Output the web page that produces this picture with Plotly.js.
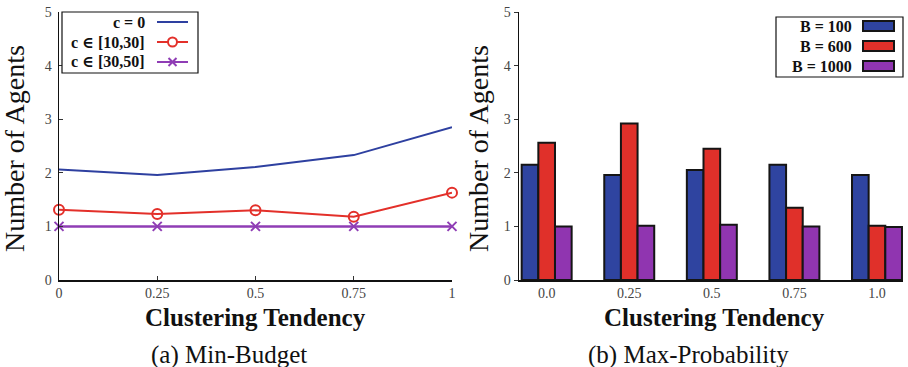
<!DOCTYPE html>
<html>
<head>
<meta charset="utf-8">
<script src="https://cdn.plot.ly/plotly-3.0.1.min.js"></script>
<style>html,body{margin:0;padding:0;background:#fff;}#chart{width:908px;height:367px;}</style>
</head>
<body>
<div id="chart"></div>
<script>
// Panel (a) Min-Budget
const tendencyA = [0, 0.25, 0.5, 0.75, 1];
const c0 = [2.06, 1.96, 2.11, 2.33, 2.85];
const c10_30 = [1.31, 1.23, 1.30, 1.18, 1.63];
const c30_50 = [1.0, 1.0, 1.0, 1.0, 1.0];
const seriesNamesA = ['c = 0', 'c ∈ [10,30]', 'c ∈ [30,50]'];
const tickTextA = ['0', '0.25', '0.5', '0.75', '1'];

// Panel (b) Max-Probability
const tendencyB = ['0.0', '0.25', '0.5', '0.75', '1.0'];
const b100 = [2.15, 1.96, 2.05, 2.15, 1.96];
const b600 = [2.56, 2.92, 2.45, 1.35, 1.01];
const b1000 = [1.0, 1.01, 1.03, 1.0, 0.99];
const seriesNamesB = ['B = 100', 'B = 600', 'B = 1000'];

const yTicks = [0, 1, 2, 3, 4, 5];
const captions = ['(a) Min-Budget', '(b) Max-Probability'];
const xTitle = 'Clustering Tendency';
const yTitle = 'Number of Agents';

const W = 908, H = 367, MT = 12, MB = 87;
const PH = H - MT - MB;
const px = v => v / W;
const py = v => (H - MB - v) / PH;

const colA = ['#2e40a0', '#e3302a', '#8f3db5'];
const colB = ['#2f44a0', '#e0302a', '#9035b0'];
const serif = '"Liberation Serif", "DejaVu Serif", serif';

const traces = [
  {x: tendencyA, y: c0, type: 'scatter', mode: 'lines', name: seriesNamesA[0],
   line: {color: colA[0], width: 2}, xaxis: 'x', yaxis: 'y', showlegend: false, cliponaxis: false},
  {x: tendencyA, y: c10_30, type: 'scatter', mode: 'lines+markers', name: seriesNamesA[1],
   line: {color: colA[1], width: 2}, marker: {symbol: 'circle-open', size: 10, color: colA[1], line: {width: 2, color: colA[1]}},
   xaxis: 'x', yaxis: 'y', showlegend: false, cliponaxis: false},
  {x: tendencyA, y: c30_50, type: 'scatter', mode: 'lines+markers', name: seriesNamesA[2],
   line: {color: colA[2], width: 2.5}, marker: {symbol: 'x-thin-open', size: 9, color: colA[2], line: {width: 2, color: colA[2]}},
   xaxis: 'x', yaxis: 'y', showlegend: false, cliponaxis: false},
  {x: tendencyB, y: b100, type: 'bar', name: seriesNamesB[0], marker: {color: colB[0], line: {color: '#151515', width: 2}},
   xaxis: 'x2', yaxis: 'y2', showlegend: false},
  {x: tendencyB, y: b600, type: 'bar', name: seriesNamesB[1], marker: {color: colB[1], line: {color: '#151515', width: 2}},
   xaxis: 'x2', yaxis: 'y2', showlegend: false},
  {x: tendencyB, y: b1000, type: 'bar', name: seriesNamesB[2], marker: {color: colB[2], line: {color: '#151515', width: 2}},
   xaxis: 'x2', yaxis: 'y2', showlegend: false}
];

const tickFont = {family: serif, size: 14, color: '#444'};

const shapes = [];
const annotations = [];

// Custom legend (a): text right-aligned, sample on the right
shapes.push({type: 'rect', xref: 'paper', yref: 'paper', x0: px(62), x1: px(198), y0: py(73), y1: py(12),
  line: {color: '#111', width: 1.2}, fillcolor: '#fff'});
const legARows = [22, 42, 62];
legARows.forEach((ry, i) => {
  annotations.push({xref: 'paper', yref: 'paper', x: px(147), y: py(ry), xanchor: 'right', yanchor: 'middle',
    text: '<b>' + seriesNamesA[i] + '</b>', showarrow: false, font: {family: serif, size: 16, color: '#111'}});
  shapes.push({type: 'line', xref: 'paper', yref: 'paper', x0: px(157), x1: px(188), y0: py(ry), y1: py(ry),
    line: {color: colA[i], width: 2}});
});
shapes.push({type: 'circle', xref: 'paper', yref: 'paper', x0: px(168), x1: px(177), y0: py(46.5), y1: py(37.5),
  line: {color: colA[1], width: 2}, fillcolor: '#fff'});
shapes.push({type: 'line', xref: 'paper', yref: 'paper', x0: px(168.5), x1: px(176.5), y0: py(58), y1: py(66), line: {color: colA[2], width: 2}});
shapes.push({type: 'line', xref: 'paper', yref: 'paper', x0: px(168.5), x1: px(176.5), y0: py(66), y1: py(58), line: {color: colA[2], width: 2}});

// Custom legend (b)
shapes.push({type: 'rect', xref: 'paper', yref: 'paper', x0: px(776), x1: px(903), y0: py(77), y1: py(17),
  line: {color: '#111', width: 1.2}, fillcolor: '#fff'});
const legBRows = [26, 46, 66];
legBRows.forEach((ry, i) => {
  annotations.push({xref: 'paper', yref: 'paper', x: px(854), y: py(ry), xanchor: 'right', yanchor: 'middle',
    text: '<b>' + seriesNamesB[i] + '</b>', showarrow: false, font: {family: serif, size: 16, color: '#111'}});
  shapes.push({type: 'rect', xref: 'paper', yref: 'paper', x0: px(863), x1: px(894), y0: py(ry + 5), y1: py(ry - 5),
    line: {color: '#151515', width: 2}, fillcolor: colB[i]});
});

// Axis titles
const yTitleFont = {family: serif, size: 28, color: '#111'};
const xTitleFont = {family: serif, size: 25, color: '#111'};
annotations.push({xref: 'paper', yref: 'paper', x: px(14), y: py(149), xanchor: 'center', yanchor: 'middle', textangle: -90,
  text: yTitle, showarrow: false, font: yTitleFont});
annotations.push({xref: 'paper', yref: 'paper', x: px(478), y: py(149), xanchor: 'center', yanchor: 'middle', textangle: -90,
  text: yTitle, showarrow: false, font: yTitleFont});
annotations.push({xref: 'paper', yref: 'paper', x: px(255), y: py(317), xanchor: 'center', yanchor: 'middle',
  text: '<b>' + xTitle + '</b>', showarrow: false, font: xTitleFont});
annotations.push({xref: 'paper', yref: 'paper', x: px(714), y: py(317), xanchor: 'center', yanchor: 'middle',
  text: '<b>' + xTitle + '</b>', showarrow: false, font: xTitleFont});

// Captions
annotations.push({xref: 'paper', yref: 'paper', x: px(229), y: py(355), xanchor: 'center', yanchor: 'middle',
  text: captions[0], showarrow: false, font: {family: serif, size: 25, color: '#111'}});
annotations.push({xref: 'paper', yref: 'paper', x: px(688), y: py(355), xanchor: 'center', yanchor: 'middle',
  text: captions[1], showarrow: false, font: {family: serif, size: 25, color: '#111'}});

const layout = {
  width: W, height: H,
  margin: {l: 0, r: 0, t: MT, b: MB},
  paper_bgcolor: '#fff', plot_bgcolor: '#fff',
  showlegend: false,
  barmode: 'group', bargap: 0.395, bargroupgap: 0,
  xaxis: {domain: [px(59), px(452)], range: [0, 1], tickvals: tendencyA, ticktext: tickTextA,
    showgrid: false, zeroline: false, showline: true, linecolor: '#111', linewidth: 1.5,
    ticks: 'inside', ticklen: 4, tickcolor: '#333', tickfont: tickFont, anchor: 'y'},
  yaxis: {domain: [0, 1], range: [0, 5], tickvals: yTicks, showgrid: false, zeroline: false, showline: true,
    linecolor: '#111', linewidth: 1.5, ticks: 'inside', ticklen: 4, tickcolor: '#333', tickfont: tickFont, anchor: 'x',
    ticklabelstandoff: 3},
  xaxis2: {domain: [px(519), px(903)], type: 'category', range: [-0.335, 4.315],
    showgrid: false, zeroline: false, showline: true, linecolor: '#111', linewidth: 1.5,
    ticks: '', tickfont: tickFont, anchor: 'y2'},
  yaxis2: {domain: [0, 1], range: [0, 5], tickvals: yTicks, showgrid: false, zeroline: false, showline: true,
    linecolor: '#111', linewidth: 1.5, ticks: 'outside', ticklen: 4, tickcolor: '#333', tickfont: tickFont, anchor: 'x2'},
  shapes: shapes,
  annotations: annotations
};

Plotly.newPlot('chart', traces, layout, {displayModeBar: false, staticPlot: true});
</script>
</body>
</html>
